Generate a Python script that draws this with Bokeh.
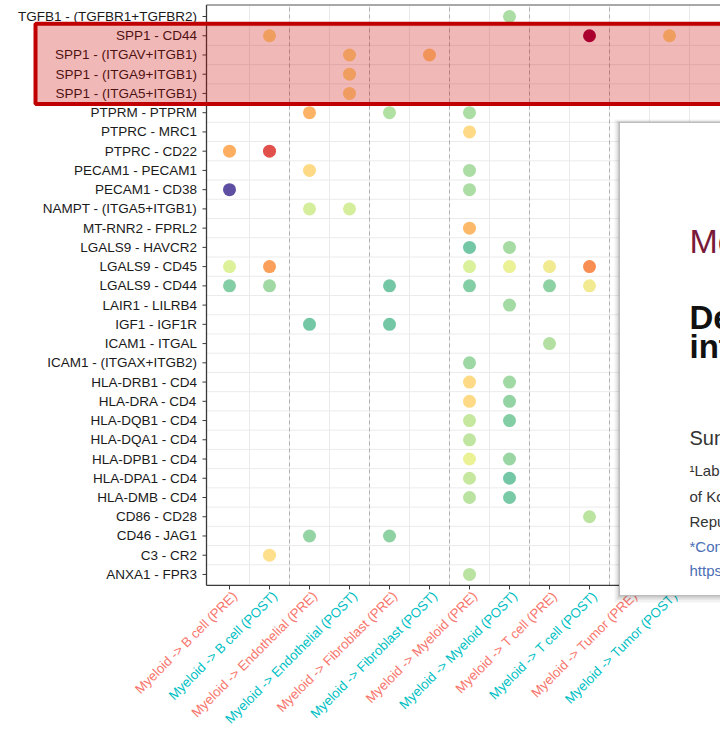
import math
from bokeh.plotting import figure
from bokeh.models import Range1d, ColumnDataSource, LinearColorMapper
from bokeh.core.properties import value, field
from bokeh.palettes import Spectral10
from bokeh.embed import file_html
from bokeh.resources import INLINE

# ---------------- data ----------------
pairs = [
    "TGFB1 - (TGFBR1+TGFBR2)", "SPP1 - CD44", "SPP1 - (ITGAV+ITGB1)", "SPP1 - (ITGA9+ITGB1)",
    "SPP1 - (ITGA5+ITGB1)", "PTPRM - PTPRM", "PTPRC - MRC1", "PTPRC - CD22", "PECAM1 - PECAM1",
    "PECAM1 - CD38", "NAMPT - (ITGA5+ITGB1)", "MT-RNR2 - FPRL2", "LGALS9 - HAVCR2", "LGALS9 - CD45",
    "LGALS9 - CD44", "LAIR1 - LILRB4", "IGF1 - IGF1R", "ICAM1 - ITGAL", "ICAM1 - (ITGAX+ITGB2)",
    "HLA-DRB1 - CD4", "HLA-DRA - CD4", "HLA-DQB1 - CD4", "HLA-DQA1 - CD4", "HLA-DPB1 - CD4",
    "HLA-DPA1 - CD4", "HLA-DMB - CD4", "CD86 - CD28", "CD46 - JAG1", "C3 - CR2", "ANXA1 - FPR3",
]
targets = ["B cell", "B cell", "Endothelial", "Endothelial", "Fibroblast", "Fibroblast",
           "Myeloid", "Myeloid", "T cell", "T cell", "Tumor", "Tumor"]
conditions = ["PRE", "POST", "PRE", "POST", "PRE", "POST", "PRE", "POST", "PRE", "POST", "PRE", "POST"]
condition_colors = {"PRE": "#F8766D", "POST": "#00BFC4"}
highlight = ["SPP1 - CD44", "SPP1 - (ITGAV+ITGB1)", "SPP1 - (ITGA9+ITGB1)", "SPP1 - (ITGA5+ITGB1)"]

dot_pair = [
    "TGFB1 - (TGFBR1+TGFBR2)",
    "SPP1 - CD44", "SPP1 - CD44", "SPP1 - CD44",
    "SPP1 - (ITGAV+ITGB1)", "SPP1 - (ITGAV+ITGB1)",
    "SPP1 - (ITGA9+ITGB1)", "SPP1 - (ITGA5+ITGB1)",
    "PTPRM - PTPRM", "PTPRM - PTPRM", "PTPRM - PTPRM",
    "PTPRC - MRC1",
    "PTPRC - CD22", "PTPRC - CD22",
    "PECAM1 - PECAM1", "PECAM1 - PECAM1",
    "PECAM1 - CD38", "PECAM1 - CD38",
    "NAMPT - (ITGA5+ITGB1)", "NAMPT - (ITGA5+ITGB1)",
    "MT-RNR2 - FPRL2",
    "LGALS9 - HAVCR2", "LGALS9 - HAVCR2",
    "LGALS9 - CD45", "LGALS9 - CD45", "LGALS9 - CD45", "LGALS9 - CD45", "LGALS9 - CD45", "LGALS9 - CD45",
    "LGALS9 - CD44", "LGALS9 - CD44", "LGALS9 - CD44", "LGALS9 - CD44", "LGALS9 - CD44", "LGALS9 - CD44",
    "LAIR1 - LILRB4",
    "IGF1 - IGF1R", "IGF1 - IGF1R",
    "ICAM1 - ITGAL",
    "ICAM1 - (ITGAX+ITGB2)",
    "HLA-DRB1 - CD4", "HLA-DRB1 - CD4",
    "HLA-DRA - CD4", "HLA-DRA - CD4",
    "HLA-DQB1 - CD4", "HLA-DQB1 - CD4",
    "HLA-DQA1 - CD4",
    "HLA-DPB1 - CD4", "HLA-DPB1 - CD4",
    "HLA-DPA1 - CD4", "HLA-DPA1 - CD4",
    "HLA-DMB - CD4", "HLA-DMB - CD4",
    "CD86 - CD28",
    "CD46 - JAG1", "CD46 - JAG1",
    "C3 - CR2",
    "ANXA1 - FPR3",
]
dot_col = [
    8,
    2, 10, 12,
    4, 6,
    4, 4,
    3, 5, 7,
    7,
    1, 2,
    3, 7,
    1, 7,
    3, 4,
    7,
    7, 8,
    1, 2, 7, 8, 9, 10,
    1, 2, 5, 7, 9, 10,
    8,
    3, 5,
    9,
    7,
    7, 8,
    7, 8,
    7, 8,
    7,
    7, 8,
    7, 8,
    7, 8,
    10,
    3, 5,
    2,
    7,
]
dot_strength = [
    3.0,
    5.1, 9.0, 5.1,
    5.1, 5.35,
    5.1, 5.15,
    5.9, 3.1, 3.0,
    5.1,
    6.0, 7.6,
    5.1, 3.0,
    0.0, 3.0,
    3.7, 3.7,
    5.8,
    2.2, 2.95,
    3.85, 6.2, 3.8, 4.2, 4.5, 6.5,
    2.45, 2.85, 2.2, 2.45, 2.6, 4.5,
    2.9,
    2.2, 2.2,
    3.15,
    2.8,
    5.1, 2.85,
    5.1, 2.65,
    3.45, 2.45,
    3.35,
    4.2, 2.75,
    3.45, 2.2,
    3.25, 2.25,
    3.3,
    2.65, 2.6,
    5.0,
    3.25,
]

# ---------------- geometry ----------------
FONT = "Liberation Sans"
W, H = 720, 726
n_rows = len(pairs)
n_cols = len(targets)
PXX, PXY = 40.0, 19.24
AX_L = 206          # pixel x of the left axis line
ROW1 = 16           # pixel y of the first row
xs0 = 1 - 229 / PXX                # data x at pixel 0 (first column at pixel 229)
ye = n_rows + ROW1 / PXY           # data y at pixel 0


def sx(px):  # figure pixel -> data x (decorations only)
    return xs0 + px / PXX


def sy(py):  # figure pixel -> data y (decorations only)
    return ye - py / PXY


x_left, x_right = sx(AX_L), sx(W) + 1
y_top = sy(4.5)
y_pb = 1 - 11 / PXY          # bottom of the plotting panel

row_y = {name: n_rows - i for i, name in enumerate(pairs)}

# colour palette: Spectral10 (purple = low ... dark red = high), interpolated
base = list(Spectral10)
if base[0].lower() != "#5e4fa2":
    base = base[::-1]


def h2r(h):
    return tuple(int(h[i:i + 2], 16) for i in (1, 3, 5))


pal = []
for k in range(256):
    t = k / 255 * (len(base) - 1)
    i = min(int(t), len(base) - 2)
    f = t - i
    a, b = h2r(base[i]), h2r(base[i + 1])
    pal.append("#%02x%02x%02x" % tuple(round(a[j] + (b[j] - a[j]) * f) for j in range(3)))
mapper = LinearColorMapper(palette=pal, low=0, high=9)

p = figure(width=W, height=H, x_range=Range1d(sx(0), sx(W)), y_range=Range1d(sy(H), sy(0)),
           output_backend="svg", toolbar_location=None,
           min_border=0, min_border_left=0, min_border_right=0, min_border_top=0, min_border_bottom=0)
p.outline_line_color = None
p.background_fill_color = "white"
p.border_fill_color = "white"
p.xgrid.visible = False
p.ygrid.visible = False
p.xaxis.visible = False
p.yaxis.visible = False

# faint grid lines (between rows / between columns), dashed group separators
hx = [r + 0.5 for r in range(1, n_rows)]
p.segment(x0=[x_left] * len(hx), x1=[x_right] * len(hx), y0=hx, y1=hx,
          line_color="#ebebeb", line_width=1)
vx = [c + 0.5 for c in range(1, n_cols + 1)]
p.segment(x0=vx, x1=vx, y0=[y_pb] * len(vx), y1=[y_top] * len(vx), line_color="#ebebeb", line_width=1)
dx = [c + 0.5 for c in range(2, n_cols - 1, 2)]
p.segment(x0=dx, x1=dx, y0=[y_pb] * len(dx), y1=[y_top] * len(dx), line_color="#b0b0b0",
          line_width=1, line_dash="4 3")

# panel top border, axis lines
p.segment(x0=[x_left], x1=[x_right], y0=[y_top], y1=[y_top], line_color="#a8a8a8", line_width=2)
p.segment(x0=[x_left, x_left], x1=[x_left, x_right], y0=[y_pb, y_pb], y1=[y_top, y_pb],
          line_color="#3a3a3a", line_width=1.3)

# y ticks + labels
ry = [row_y[n] for n in pairs]
p.segment(x0=[sx(AX_L - 4)] * n_rows, x1=[x_left] * n_rows, y0=ry, y1=ry,
          line_color="#3a3a3a", line_width=1)
p.text(x=[sx(196.5)] * n_rows, y=ry, text=pairs, text_align="right", text_baseline="middle",
       text_color="#1a1a1a", text_font=value(FONT), text_font_size=value("13.5px"))

# x ticks + labels coloured by condition
cols = list(range(1, n_cols + 1))
p.segment(x0=cols, x1=cols, y0=[y_pb] * n_cols, y1=[y_pb - 4 / PXY] * n_cols,
          line_color="#3a3a3a", line_width=1)
col_labels = [f"Myeloid -> {t} ({c})" for t, c in zip(targets, conditions)]
lab_src = ColumnDataSource(dict(x=cols, y=[sy(588)] * n_cols, text=col_labels,
                                color=[condition_colors[c] for c in conditions]))
p.text(x="x", y="y", text="text", source=lab_src, angle=math.pi / 4,
       text_align="right", text_baseline="top", text_color=field("color"),
       text_font=value(FONT), text_font_size=value("13.3px"))

# dots
src = ColumnDataSource(dict(x=dot_col, y=[row_y[n] for n in dot_pair], v=dot_strength))
p.scatter(x="x", y="y", size=13, source=src, line_color=None,
          fill_color={"field": "v", "transform": mapper})

# red highlight box
hy = [row_y[n] for n in highlight]
p.quad(left=[sx(35)], right=[x_right + 1], top=[max(hy) + 0.62], bottom=[min(hy) - 0.55],
       fill_color="#cc0000", fill_alpha=0.28, line_color="#c00000", line_width=4)

# overlaid paper panel with soft shadow
pl, pt, pb = 619, 122, 595
for d, a in ((5, 0.05), (3, 0.07), (1.5, 0.1)):
    p.quad(left=[sx(pl - d)], right=[x_right + 1], top=[sy(pt - d * 0.6)], bottom=[sy(pb + d * 1.4)],
           fill_color="black", fill_alpha=a, line_color=None)
p.quad(left=[sx(pl)], right=[x_right + 1], top=[sy(pt)], bottom=[sy(pb)],
       fill_color="white", fill_alpha=1, line_color="#bdbdbd", line_width=1)

panel_texts = [
    ("Mo", 240, "34px", "normal", "#7a1a3a"),
    ("De", 317, "33px", "bold", "#111111"),
    ("int", 346, "33px", "bold", "#111111"),
    ("Sun", 437, "20px", "normal", "#333333"),
    ("\u00b9Lab", 470, "15px", "normal", "#333333"),
    ("of Ko", 496, "15px", "normal", "#333333"),
    ("Repu", 521, "15px", "normal", "#333333"),
    ("*Con", 546, "15px", "normal", "#4a6fb5"),
    ("https", 570, "15px", "normal", "#4a6fb5"),
]
for txt, cy, size, style, col in panel_texts:
    p.text(x=[sx(689)], y=[sy(cy)], text=[txt], text_font=value(FONT), text_font_size=value(size),
           text_font_style=style, text_color=col, text_baseline="middle", text_align="left")

open("out.html", "w").write(file_html(p, INLINE))
